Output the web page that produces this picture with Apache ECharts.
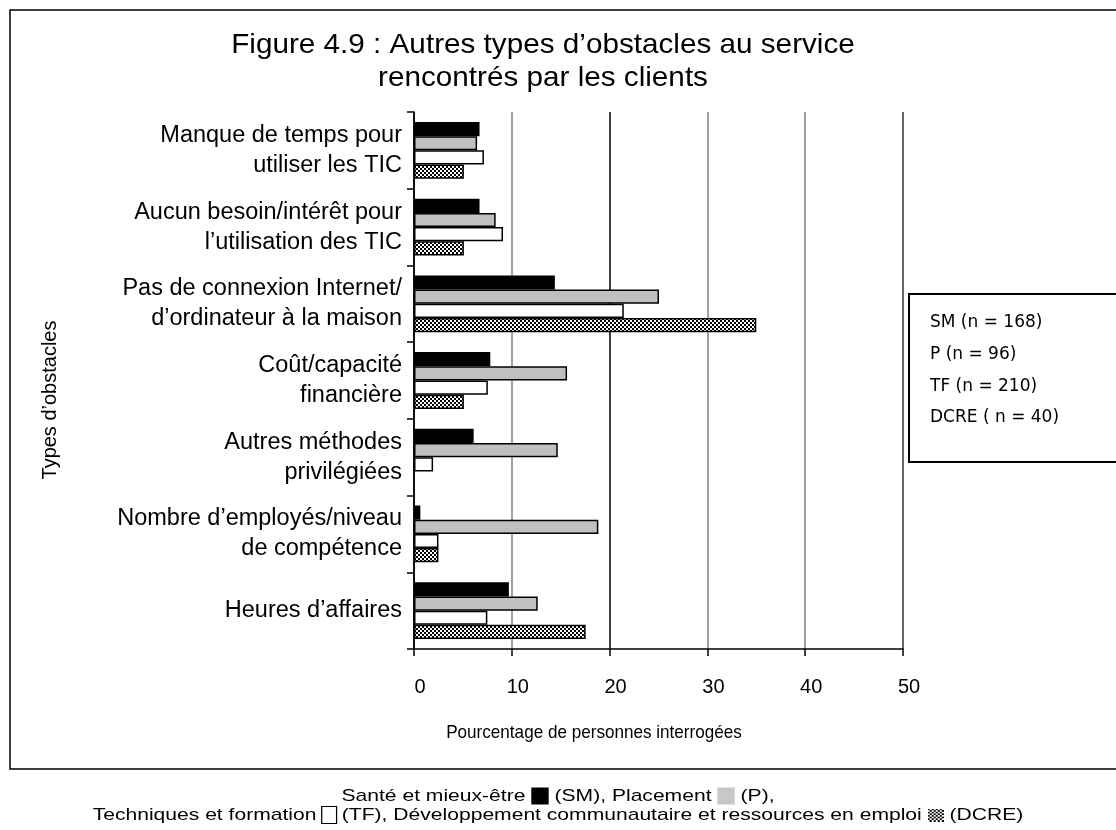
<!DOCTYPE html>
<html><head><meta charset="utf-8">
<script src="https://cdn.jsdelivr.net/npm/echarts@6/dist/echarts.min.js"></script>
<style>html,body{margin:0;padding:0;background:#fff}#c{width:1116px;height:830px}</style>
</head><body><div id="c"></div>
<script>
const categories = [
  "Manque de temps pour\nutiliser les TIC",
  "Aucun besoin/intérêt pour\nl’utilisation des TIC",
  "Pas de connexion Internet/\nd’ordinateur à la maison",
  "Coût/capacité\nfinancière",
  "Autres méthodes\nprivilégiées",
  "Nombre d’employés/niveau\nde compétence",
  "Heures d’affaires"
];
const seriesNames = ["SM", "P", "TF", "DCRE"];
const smValues   = [6.7, 6.7, 14.4, 7.8, 6.1, 0.65, 9.7];
const pValues    = [6.45, 8.35, 25.05, 15.65, 14.7, 18.85, 12.65];
const tfValues   = [7.15, 9.1, 21.45, 7.55, 1.95, 2.5, 7.5];
const dcreValues = [5.1, 5.1, 35.0, 5.1, 0, 2.5, 17.55];
const xTicks = [0, 10, 20, 30, 40, 50];
const legendLabels = ["SM (n = 168)", "P (n = 96)", "TF (n = 210)", "DCRE ( n = 40)"];
const titleLines = ["Figure 4.9 : Autres types d’obstacles au service", "rencontrés par les clients"];
const xAxisName = "Pourcentage de personnes interrogées";
const yAxisName = "Types d’obstacles";

function checker(size, cell) {
  const c = document.createElement('canvas');
  c.width = size; c.height = size;
  const g = c.getContext('2d');
  g.fillStyle = '#fff'; g.fillRect(0, 0, size, size);
  g.fillStyle = '#000';
  for (let y = 0; y < size; y += cell) for (let x = 0; x < size; x += cell)
    if (((x / cell) + (y / cell)) % 2 === 0) g.fillRect(x, y, cell, cell);
  return c;
}
const pattern = { image: checker(4, 2), repeat: 'repeat' };
const swatchImg = checker(16, 2);

const font = 'Liberation Sans, Arial, sans-serif';
const chart = echarts.init(document.getElementById('c'), null, { renderer: 'canvas' });

function mk(name, data, color) {
  return {
    name, type: 'bar', data: data.map(v => v === 0 ? '-' : v),
    barGap: '0%', barCategoryGap: '26%',
    itemStyle: { color, borderColor: '#000', borderWidth: 1.5 },
    animation: false
  };
}

chart.setOption({
  animation: false,
  grid: { left: 414, right: 213, top: 112, bottom: 181, containLabel: false },
  xAxis: {
    type: 'value', min: xTicks[0], max: xTicks[xTicks.length - 1], interval: 10,
    axisLine: { show: true, lineStyle: { color: '#000', width: 1.5 } },
    axisTick: { show: true, length: 7, lineStyle: { color: '#000', width: 1.5 } },
    axisLabel: { fontSize: 20, color: '#000', fontFamily: font, margin: 28, padding: [0, 0, 0, 12] },
    splitLine: { show: true, lineStyle: { color: ['#000', '#808080', '#000', '#808080', '#808080', '#333'], width: 1.5 } }
  },
  yAxis: {
    type: 'category', data: categories, inverse: true,
    axisLine: { show: true, lineStyle: { color: '#000', width: 1.5 } },
    axisTick: { show: true, length: 7, lineStyle: { color: '#000', width: 1.5 } },
    axisLabel: { fontSize: 23.5, color: '#000', fontFamily: font, lineHeight: 30, margin: 12, align: 'right', padding: [4, 0, 0, 0] },
    splitLine: { show: false }
  },
  series: [
    mk(seriesNames[0], smValues, '#000'),
    mk(seriesNames[1], pValues, '#c0c0c0'),
    mk(seriesNames[2], tfValues, '#fff'),
    mk(seriesNames[3], dcreValues, pattern)
  ],
  graphic: [
    { type: 'rect', shape: { x: 10, y: 10, width: 1120, height: 759 }, style: { fill: 'none', stroke: '#000', lineWidth: 1.5 }, silent: true },
    { type: 'text', x: 543, y: 45, scaleX: 1.06, style: { text: titleLines[0], font: '28px ' + font, fill: '#000', align: 'center', verticalAlign: 'middle' } },
    { type: 'text', x: 543, y: 78, scaleX: 1.06, style: { text: titleLines[1], font: '28px ' + font, fill: '#000', align: 'center', verticalAlign: 'middle' } },
    { type: 'text', x: 594, y: 733, scaleX: 0.9, style: { text: xAxisName, font: '19px ' + font, fill: '#000', align: 'center', verticalAlign: 'middle' } },
    { type: 'text', x: 50, y: 400, rotation: Math.PI / 2, style: { text: yAxisName, font: '20px ' + font, fill: '#000', align: 'center', verticalAlign: 'middle' } },
    { type: 'rect', shape: { x: 909, y: 294, width: 230, height: 168 }, style: { fill: '#fff', stroke: '#000', lineWidth: 2 } },
    { type: 'text', x: 930, y: 307, style: { text: legendLabels.join('\n'), font: '17px DejaVu Sans, sans-serif', fill: '#000', lineHeight: 31.7, align: 'left', verticalAlign: 'top' } },
    { type: 'text', x: 558, y: 796, scaleX: 1.24, style: {
        text: '{t|Santé et mieux-être }{sm|}{t| (SM), Placement }{p|}{t| (P),}',
        align: 'center', verticalAlign: 'middle',
        rich: {
          t: { font: '17px ' + font, fill: '#000' },
          sm: { width: 14, height: 17, backgroundColor: '#000' },
          p: { width: 14, height: 17, backgroundColor: '#c8c8c8' }
        } } },
    { type: 'text', x: 558, y: 815, scaleX: 1.24, style: {
        text: '{t|Techniques et formation }{tf|}{t| (TF), Développement communautaire et ressources en emploi }{dc|}{t| (DCRE)}',
        align: 'center', verticalAlign: 'middle',
        rich: {
          t: { font: '17px ' + font, fill: '#000' },
          tf: { width: 11, height: 16, backgroundColor: '#fff', borderColor: '#000', borderWidth: 1 },
          dc: { width: 13, height: 13, backgroundColor: { image: swatchImg } }
        } } }
  ]
});
</script></body></html>
